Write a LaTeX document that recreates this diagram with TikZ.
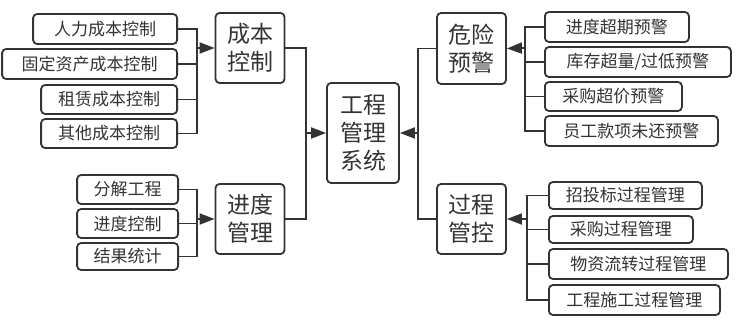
\documentclass[tikz,border=0pt]{standalone}
\usepackage{fontspec}
\setmainfont{Noto Sans CJK SC}
\usetikzlibrary{arrows.meta}
\definecolor{ink}{HTML}{333333}
\tikzset{
  leaf/.style={draw=ink, text=ink, line width=1.8pt, rounded corners=4pt,
    minimum height=30pt, inner sep=0pt, font=\fontsize{17}{20}\selectfont},
  hub/.style={draw=ink, text=ink, line width=1.8pt, rounded corners=4pt,
    minimum width=69pt, minimum height=70pt, inner sep=0pt, align=center,
    font=\fontsize{23}{28}\selectfont},
  link/.style={draw=ink, line width=1.8pt},
  arr/.style={link, -{Triangle[length=15pt,width=11pt]}}
}
\begin{document}
\begin{tikzpicture}[x=1pt, y=-1pt]
  \useasboundingbox (0,0) rectangle (741,329);

  % Centre: the whole system
  \node[hub, minimum width=72pt, minimum height=100pt] (sys) at (363,133) {工程\\管理\\系统};

  % Four branch boxes
  \node[hub] (cost) at (250,48) {成本\\控制};
  \node[hub] (prog) at (250,219) {进度\\管理};
  \node[hub, minimum height=71pt] (risk) at (471.5,48.5) {危险\\预警};
  \node[hub] (proc) at (471.5,219) {过程\\管控};

  % Cost control items
  \node[leaf, anchor=east, minimum width=144pt] (hr) at (178,29) {人力成本控制};
  \node[leaf, anchor=east, minimum width=175pt] (fixed) at (178,64) {固定资产成本控制};
  \node[leaf, anchor=east, minimum width=136pt, minimum height=29pt] (lease) at (178,99.5) {租赁成本控制};
  \node[leaf, anchor=east, minimum width=136pt, minimum height=29pt] (other) at (178,133.5) {其他成本控制};

  % Progress items
  \node[leaf, anchor=east, minimum width=101pt, minimum height=29pt] (split) at (179,189.5) {分解工程};
  \node[leaf, anchor=east, minimum width=101pt, minimum height=29pt] (sched) at (179,223.5) {进度控制};
  \node[leaf, anchor=east, minimum width=101pt, minimum height=27pt] (stats) at (179,256.5) {结果统计};

  % Risk warning items
  \node[leaf, anchor=west, minimum width=144pt] (late) at (544,27) {进度超期预警};
  \node[leaf, anchor=west, minimum width=186pt] (stock) at (544,62) {库存超量/过低预警};
  \node[leaf, anchor=west, minimum width=137pt, minimum height=29pt] (price) at (544,96.5) {采购超价预警};
  \node[leaf, anchor=west, minimum width=173pt] (debt) at (544,131) {员工款项未还预警};

  % Process items
  \node[leaf, anchor=west, minimum width=153pt, minimum height=27pt] (bid) at (548,195.5) {招投标过程管理};
  \node[leaf, anchor=west, minimum width=144pt, minimum height=27pt] (buy) at (548,229.5) {采购过程管理};
  \node[leaf, anchor=west, minimum width=179pt] (flow) at (548,264) {物资流转过程管理};
  \node[leaf, anchor=west, minimum width=171pt] (build) at (548,300) {工程施工过程管理};

  % Bus points
  \coordinate (costbus) at (197,48);
  \coordinate (progbus) at (197,219);
  \coordinate (riskbus) at (525,48);
  \coordinate (procbus) at (527,219);
  \coordinate (leftbus) at (306,133);
  \coordinate (rightbus) at (418,133);

  % Items into branches
  \foreach \n in {hr,fixed,lease,other} \draw[link] (\n.east) -| (costbus);
  \draw[arr] (costbus) -- (cost.west);
  \foreach \n in {split,sched,stats} \draw[link] (\n.east) -| (progbus);
  \draw[arr] (progbus) -- (prog.west);
  \foreach \n in {late,stock,price,debt} \draw[link] (\n.west) -| (riskbus);
  \draw[arr] (riskbus) -- (risk.east);
  \foreach \n in {bid,buy,flow,build} \draw[link] (\n.west) -| (procbus);
  \draw[arr] (procbus) -- (proc.east);

  % Branches into the system
  \draw[link] (cost.east) -| (leftbus);
  \draw[link] (prog.east) -| (leftbus);
  \draw[arr] (leftbus) -- (sys.west);
  \draw[link] (risk.west) -| (rightbus);
  \draw[link] (proc.west) -| (rightbus);
  \draw[arr] (rightbus) -- (sys.east);
\end{tikzpicture}
\end{document}
